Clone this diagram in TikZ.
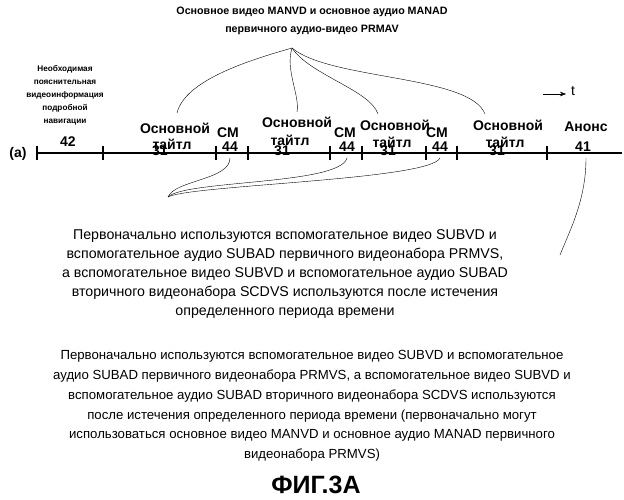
\documentclass[tikz,border=0pt]{standalone}
\usepackage{fontspec}
\setmainfont{Liberation Sans}
\usetikzlibrary{arrows.meta}
\begin{document}
\begin{tikzpicture}[x=1pt,y=-1pt,
            % подписи на оси
            lbl/.style={font=\fontsize{14}{15}\selectfont\bfseries, inner sep=0pt},
            small/.style={font=\fontsize{8.2}{13}\selectfont\bfseries, align=center, inner sep=0pt},
            txt/.style={font=\fontsize{13.2}{19.7}\selectfont, align=center, inner sep=0pt},
            tick/.style={line width=1.2pt}
        ]
            \useasboundingbox (0,0) rectangle (624,500);
            % ОСЬ ВРЕМЕНИ
            \coordinate (ax0) at (37,153);
            \coordinate (ax1) at (622,153);
            \draw[line width=1.2pt] (ax0) -- (ax1);
            \foreach \x in {37,103,216,248,330,362,426,457,547}
                \draw[tick] (\x,146) -- (\x,160);
            \node[lbl] (a) at (18,154) {(a)};
            % МЕТКИ
            \node[small] (nav) at (65,95) {Необходимая\\пояснительная\\видеоинформация\\подробной\\навигации};
            \node[lbl] (n42) at (68,142) {42};
            \node[lbl] (t1) at (175,128) {Основной};
            \node[lbl] (n31a) at (160,151) {31};
            \node[lbl] at (172,144) {тайтл};
            \node[lbl] (cm1) at (228,133) {CM};
            \node[lbl] (n44a) at (230,147) {44};
            \node[lbl] (t2) at (297,122) {Основной};
            \node[lbl] (n31b) at (282,151) {31};
            \node[lbl] at (290,140) {тайтл};
            \node[lbl] (cm2) at (345,133) {CM};
            \node[lbl] (n44b) at (347,147) {44};
            \node[lbl] (t3) at (395,125) {Основной};
            \node[lbl] (n31c) at (388,151) {31};
            \node[lbl] at (392,142) {тайтл};
            \node[lbl] (cm3) at (437,133) {CM};
            \node[lbl] (n44c) at (440,147) {44};
            \node[lbl] (t4) at (508,125) {Основной};
            \node[lbl] (n31d) at (497,151) {31};
            \node[lbl] at (505,142) {тайтл};
            \node[lbl] (anons) at (586,127) {Анонс};
            \node[lbl] (n41) at (583,147) {41};
            % СТРЕЛКА t
            \coordinate (ta) at (543,94);
            \coordinate (tb) at (566,94);
            \draw[-{Stealth[length=6pt]}] (ta) -- (tb);
            \node[font=\fontsize{14}{15}\selectfont, inner sep=0pt] (t) at (573,91) {t};
            % ВЕРХНИЙ ТЕКСТ И СКОБКИ
            \node[txt, font=\fontsize{10.7}{18}\selectfont\bfseries] (top) at (312,21) {Основное видео MANVD и основное аудио MANAD\\первичного аудио-видео PRMAV};
            \coordinate (apex) at (292,48);
            \draw (apex) .. controls (250,60) and (185,80) .. (177,113);
            \draw (apex) .. controls (285,70) and (300,95) .. (297,112);
            \draw (apex) .. controls (310,75) and (370,90) .. (378,114);
            \draw (apex) .. controls (330,80) and (470,75) .. (485,114);
            % НИЖНИЕ СКОБКИ
            \coordinate (low) at (168,197);
            \draw (low) .. controls (175,180) and (230,180) .. (230,158);
            \draw (low) .. controls (185,180) and (340,185) .. (347,158);
            \draw (low) .. controls (190,185) and (430,180) .. (440,158);
            \coordinate (an) at (586,158);
            \draw (an) .. controls (586,200) and (570,230) .. (560,255);
            % ТЕКСТЫ
            \node[txt, font=\fontsize{14.2}{19}\selectfont] (d1) at (285,274) {Первоначально используются вспомогательное видео SUBVD и\\вспомогательное аудио SUBAD первичного видеонабора PRMVS,\\а вспомогательное видео SUBVD и вспомогательное аудио SUBAD\\вторичного видеонабора SCDVS используются после истечения\\определенного периода времени};
            \node[txt] (d2) at (312,406) {Первоначально используются вспомогательное видео SUBVD и вспомогательное\\аудио SUBAD первичного видеонабора PRMVS, а вспомогательное видео SUBVD и\\вспомогательное аудио SUBAD вторичного видеонабора SCDVS используются\\после истечения определенного периода времени (первоначально могут\\использоваться основное видео MANVD и основное аудио MANAD первичного\\видеонабора PRMVS)};
            \node[font=\fontsize{25}{28}\selectfont\bfseries, inner sep=0pt] (fig) at (316,485) {ФИГ.3А};
        \end{tikzpicture}
\end{document}
